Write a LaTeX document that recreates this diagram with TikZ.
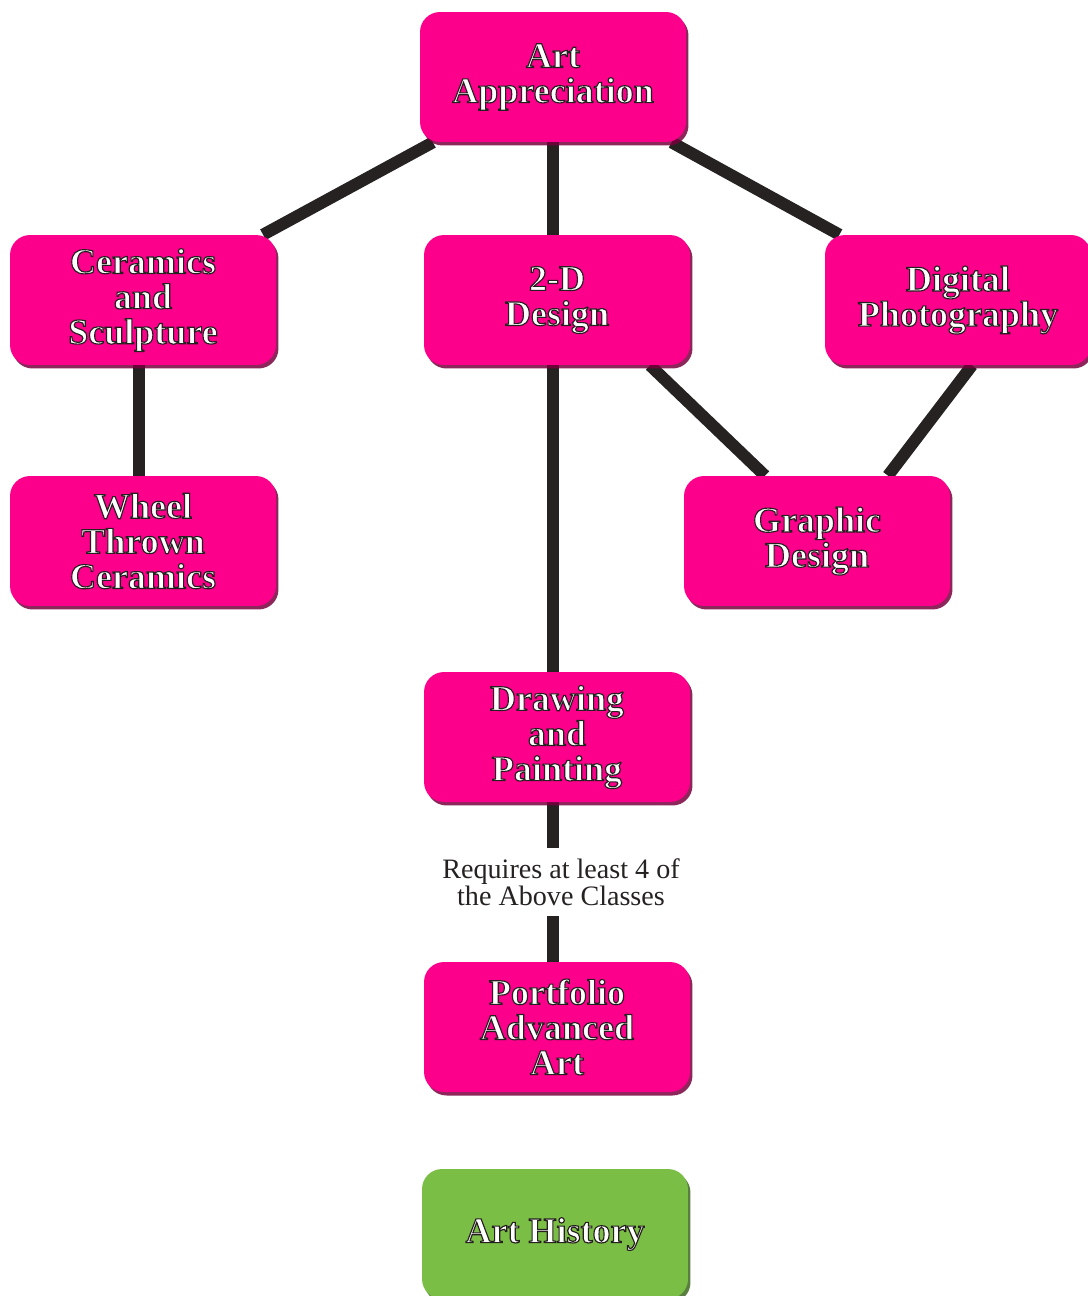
\documentclass[tikz,border=0pt]{standalone}
\usepackage{fontspec}
\setmainfont{Liberation Serif}
\usetikzlibrary{shadows,backgrounds,calc}
\definecolor{coursepink}{RGB}{252,0,140}
\definecolor{pinkshade}{RGB}{120,0,62}
\definecolor{coursegreen}{RGB}{122,190,70}
\definecolor{greenshade}{RGB}{60,105,30}
\definecolor{linkgray}{RGB}{38,34,34}
% outlined white lettering
\newcommand{\wl}[1]{\special{pdf:literal direct 2 Tr 0.65 w 0.15 0.12 0.12 RG}#1\special{pdf:literal direct 0 Tr}}

\begin{document}
\begin{tikzpicture}
        [x=0.02cm, y=-0.02cm,
        course/.style={rectangle,rounded corners=0.4cm,fill=coursepink,minimum width=5.32cm,minimum height=2.6cm,align=center,text=white,font=\bfseries\fontsize{20.5}{20}\selectfont,drop shadow={shadow xshift=0.05cm,shadow yshift=-0.07cm,fill=#1,opacity=0.85}},
        course/.default=pinkshade,
        history/.style={course=greenshade,fill=coursegreen},
        link/.style={draw=linkgray,line width=0.24cm},
        note/.style={align=center,text=linkgray,font=\fontsize{16}{15.5}\selectfont,inner sep=0.2cm}]
        \useasboundingbox (0,0) rectangle (1088,1296);
        \node (appr) at (553,77) [course] {\wl{Art\\Appreciation}};
        \node (cer) at (143,300) [course] {\wl{Ceramics\\and\\Sculpture}};
        \node (twod) at (557,300) [course] {\wl{2-D\\Design}};
        \node (digi) at (958,300) [course] {\wl{Digital\\Photography}};
        \node (wheel) at (143,541) [course] {\wl{Wheel\\Thrown\\Ceramics}};
        \node (graph) at (817,541) [course] {\wl{Graphic\\Design}};
        \node (draw) at (557,737) [course] {\wl{Drawing\\and\\Painting}};
        \node (req) at (561,882) [note] {Requires at least 4 of\\the Above Classes};
        \node (port) at (557,1027) [course] {\wl{Portfolio\\Advanced\\Art}};
        \node (hist) at (555,1234) [history] {\wl{Art History}};
        % connectors behind the boxes
        \begin{scope}[on background layer]
        \draw[link] (appr) -- (cer);
        \draw[link] (appr) -- (appr |- twod);
        \draw[link] (appr) -- (digi);
        \draw[link] ($(cer)+(-4,0)$) -- ($(wheel)+(-4,0)$);
        \draw[link] ($(twod)+(-4,0)$) -- ($(draw)+(-4,0)$);
        \draw[link] ($(twod.south)+(93,0)$) -- ($(graph.north)+(-52,0)$);
        \draw[link] ($(digi.south)+(14,0)$) -- ($(graph.north)+(71,0)$);
        \draw[link] ($(draw)+(-4,0)$) -- ($(req.north)+(-8,0)$);
        \draw[link] ($(req.south)+(-8,0)$) -- ($(port)+(-4,0)$);
        \end{scope}
\end{tikzpicture}
\end{document}
